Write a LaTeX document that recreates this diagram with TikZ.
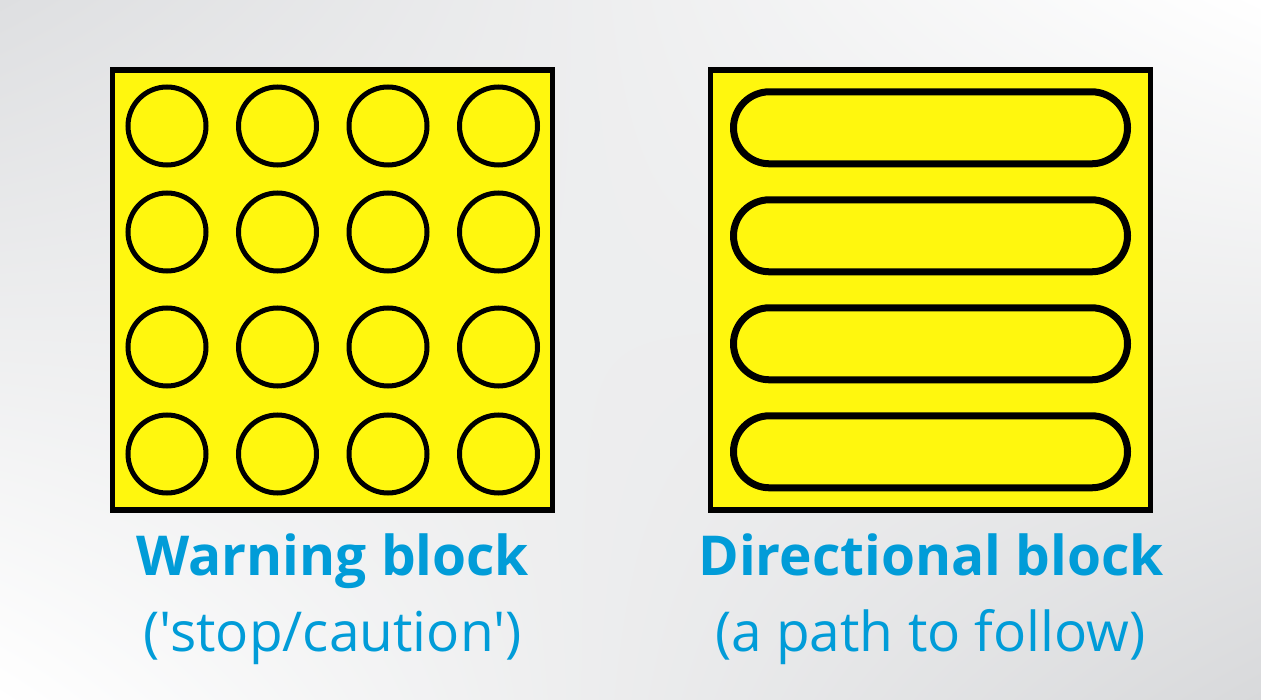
\documentclass[tikz,border=0pt]{standalone}
\usepackage{fontspec}
\usetikzlibrary{shadings}
\setmainfont{Open Sans}
\newfontfamily\straightquotes{Open Sans}
\begin{document}
\begin{tikzpicture}[x=1pt,y=-1pt,
  block/.style={draw=black,line width=5.3pt,fill=blockyellow,minimum width=440pt,minimum height=440pt,inner sep=0pt},
  dot/.style={draw=black,line width=5pt,circle,minimum size=78pt,inner sep=0pt},
  bar/.style={draw=black,line width=7pt,rounded corners=36pt,minimum width=394pt,minimum height=72pt,inner sep=0pt},
  head/.style={text=textblue,font=\fontsize{55}{60}\selectfont\bfseries,inner sep=0pt,anchor=base},
  sub/.style={text=textblue,font=\fontsize{55}{60}\selectfont,inner sep=0pt,anchor=base}]
\definecolor{blockyellow}{HTML}{FFF70E}
\definecolor{textblue}{HTML}{019CD8}
\definecolor{bgtl}{HTML}{DEDFE1}
\definecolor{bgbr}{HTML}{D8D9DB}
\useasboundingbox (0,0) rectangle (1261,700);
\shade[shading=bilinear interpolation,upper left=bgtl,upper right=white,lower left=white,lower right=bgbr] (0,0) rectangle (1261,700);
\node[block] (w) at (332.2,290) {};
\node[block] (d) at (930.2,290) {};
\foreach \y/\r in {126/a,232/b,347/c,454/d}{
  \foreach \x/\c in {167/1,277.5/2,388/3,498.5/4}{
    \node[dot] (dot\r\c) at (\x,\y) {};
  }
}
\foreach \y/\r in {127.8/a,235.8/b,343.8/c,451.8/d}{
  \node[bar] (bar\r) at (930.5,\y) {};
}
\node[head] (wt) at (332.8,575) {Warning block};
\node[sub] (ws) at (332.5,651) {{\straightquotes('stop/caution')}};
\node[head] (dt) at (931,575) {Directional block};
\node[sub] (ds) at (930.5,651) {(a path to follow)};
\end{tikzpicture}
\end{document}
